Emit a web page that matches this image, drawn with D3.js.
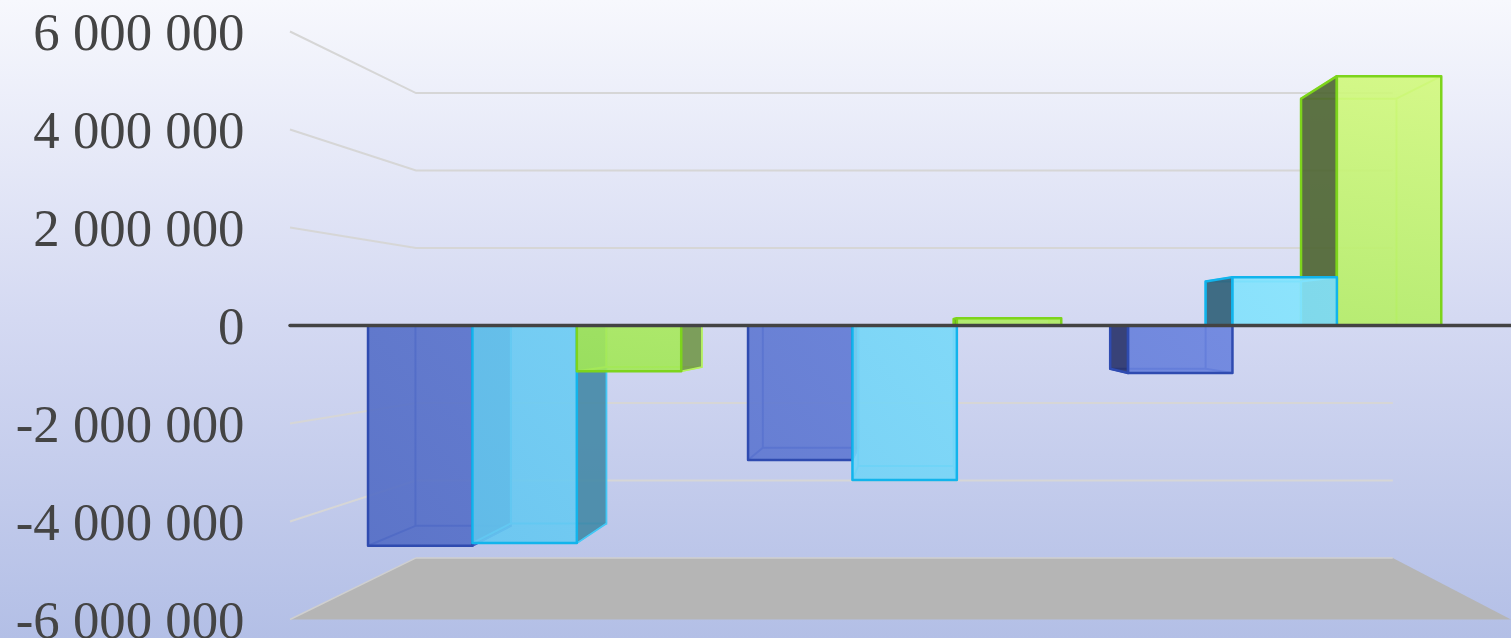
<!DOCTYPE html>
<html>
<head>
<meta charset="utf-8">
<script src="https://cdn.jsdelivr.net/npm/d3@7"></script>
<style>
html, body { margin: 0; padding: 0; overflow: hidden; }
svg { display: block; }
text { font-family: "Liberation Serif", serif; font-size: 52.8px; fill: #444; }
</style>
</head>
<body>
<div id="chart"></div>
<script>
// values
var categories = ["A", "B", "C"];
var seriesNames = ["s1", "s2", "s3"];
var series1 = [-4850000, -2960000, -1045000];
var series2 = [-4790000, -3400000, 1065000];
var series3 = [-1005000, 160000, 5490000];
var tickValues = [6000000, 4000000, 2000000, 0, -2000000, -4000000, -6000000];

var width = 1511, height = 638;
var allSeries = [series1, series2, series3];

// colours per series: front gradient (dark, light), edges, left and right side
var look = [
    { a: "#516bc4", b: "#6f88e4", edge: "#2f4bb0", inner: "#4560c6", sideL: "#27326a", sideR: "#33448c", vec: [350, 560, 1300, 60] },
    { a: "#60c2ef", b: "#88e8ff", edge: "#12b4ec", inner: "#45c8f5", sideL: "#2f5f78", sideR: "#4488a6", vec: [350, 560, 1300, 60] },
    { a: "#9ee654", b: "#e3ff8a", edge: "#7dd41c", inner: "#b4f060", sideL: "#4c6430", sideR: "#72984a", vec: [600, 400, 700, -200] }
];

// perspective: everything shrinks towards one point
var vpX = 920, vpY = 325.5;
function shrinkX(z) { return 1 / (1 + 0.25 * z); }
function shrinkY(z) { return 1 / (1 + 0.265 * z); }
var y = d3.scaleLinear().domain([-6000000, 6000000]).range([294, -294]);
var wallLeft = -630, wallRight = 591;
var x0 = d3.scaleBand().domain(categories).range([-629, 596]);
var x1 = d3.scaleBand().domain(seriesNames).range([0, x0.bandwidth()])
    .paddingInner(0).paddingOuter(0.32);
var barFront = 0.298, barBack = 0.702;

function pt(u, v, z) {
    return [vpX + u * shrinkX(z), vpY + y(v) * shrinkY(z)];
}
function poly(sel, pts) {
    return sel.append("polygon").attr("points", pts.map(function(p) { return p.join(","); }).join(" "));
}

var svg = d3.select("#chart").append("svg").attr("width", width).attr("height", height);
var defs = svg.append("defs");

var bg = defs.append("linearGradient").attr("id", "bg").attr("x1", 0).attr("y1", 0).attr("x2", 0).attr("y2", 1);
bg.append("stop").attr("offset", 0).attr("stop-color", "#f7f8fd");
bg.append("stop").attr("offset", 0.5).attr("stop-color", "#d4d9f2");
bg.append("stop").attr("offset", 1).attr("stop-color", "#b3bfe6");
svg.append("rect").attr("width", width).attr("height", height).attr("fill", "url(#bg)");

look.forEach(function(c, i) {
    var g = defs.append("linearGradient").attr("id", "front" + i)
	.attr("gradientUnits", "userSpaceOnUse")
	.attr("x1", c.vec[0]).attr("y1", c.vec[1]).attr("x2", c.vec[2]).attr("y2", c.vec[3]);
    g.append("stop").attr("offset", 0).attr("stop-color", c.a);
    g.append("stop").attr("offset", 1).attr("stop-color", c.b);
});

// floor
poly(svg, [pt(wallLeft, -6000000, 0), pt(wallRight, -6000000, 0), pt(wallRight, -6000000, 1), pt(wallLeft, -6000000, 1)])
    .attr("fill", "#b5b5b5");
svg.append("polyline")
    .attr("points", [pt(wallLeft, -6000000, 0), pt(wallLeft, -6000000, 1), pt(wallRight, -6000000, 1)].map(String).join(" "))
    .attr("fill", "none").attr("stroke", "#cfcfcf").attr("stroke-width", 1.5);

// grid lines, side wall then back wall
tickValues.filter(function(t) { return t !== 0 && t !== -6000000; }).forEach(function(t) {
    svg.append("polyline")
	.attr("points", [pt(wallLeft, t, 0), pt(wallLeft, t, 1), pt(wallRight, t, 1)].map(String).join(" "))
	.attr("fill", "none").attr("stroke", "#d6d6d6").attr("stroke-width", 2);
});

// flatten the bars, the ones far from the vanishing point get painted first
var bars = [];
categories.forEach(function(cat, c) {
    seriesNames.forEach(function(name, s) {
	var left = x0(cat) + x1(name);
	bars.push({ s: s, v: allSeries[s][c], left: left, right: left + x1.bandwidth() });
    });
});
bars.sort(function(a, b) {
    return Math.abs(b.left + b.right) - Math.abs(a.left + a.right);
});

bars.forEach(function(b) {
    var c = look[b.s];
    var g = svg.append("g");
    var fl0 = pt(b.left, 0, barFront), fr0 = pt(b.right, 0, barFront);
    var flv = pt(b.left, b.v, barFront), frv = pt(b.right, b.v, barFront);
    var bl0 = pt(b.left, 0, barBack), br0 = pt(b.right, 0, barBack);
    var blv = pt(b.left, b.v, barBack), brv = pt(b.right, b.v, barBack);

    // back edges and the cap, seen through the front face
    g.append("polyline")
	.attr("points", [bl0, blv, brv, br0].map(String).join(" "))
	.attr("fill", "none").attr("stroke", c.inner).attr("stroke-width", 2);
    [[flv, blv], [frv, brv]].forEach(function(e) {
	g.append("line")
	    .attr("x1", e[0][0]).attr("y1", e[0][1]).attr("x2", e[1][0]).attr("y2", e[1][1])
	    .attr("stroke", c.inner).attr("stroke-width", 2);
    });

    // side turned to the viewer, only when the whole bar is off to one side
    if (b.left > 0) {
	poly(g, [fl0, flv, blv, bl0]).attr("fill", c.sideL).attr("fill-opacity", 0.9)
	    .attr("stroke", c.edge).attr("stroke-width", 2.5).attr("stroke-linejoin", "round");
    } else if (b.right < 0) {
	poly(g, [fr0, frv, brv, br0]).attr("fill", c.sideR).attr("fill-opacity", 0.9)
	    .attr("stroke", c.inner).attr("stroke-width", 1.5).attr("stroke-linejoin", "round");
    }

    // front face
    poly(g, [fl0, flv, frv, fr0])
	.attr("fill", "url(#front" + b.s + ")").attr("fill-opacity", 0.9)
	.attr("stroke", c.edge).attr("stroke-width", 2.5).attr("stroke-linejoin", "round");
});

// zero line on top
svg.append("line")
    .attr("x1", pt(wallLeft, 0, 0)[0]).attr("x2", pt(wallRight, 0, 0)[0])
    .attr("y1", vpY).attr("y2", vpY)
    .attr("stroke", "#434343").attr("stroke-width", 3.5).attr("stroke-linecap", "round");

// axis labels
var fmt = d3.formatLocale({ decimal: ",", thousands: "\u00a0", grouping: [3], currency: ["", ""], minus: "-" }).format(",d");
svg.selectAll("text.tick").data(tickValues).enter().append("text")
    .attr("class", "tick")
    .attr("x", 244.5)
    .attr("y", function(d) { return pt(0, d, 0)[1] + 18; })
    .attr("text-anchor", "end")
    .text(function(d) { return fmt(d); });
</script>
</body>
</html>
